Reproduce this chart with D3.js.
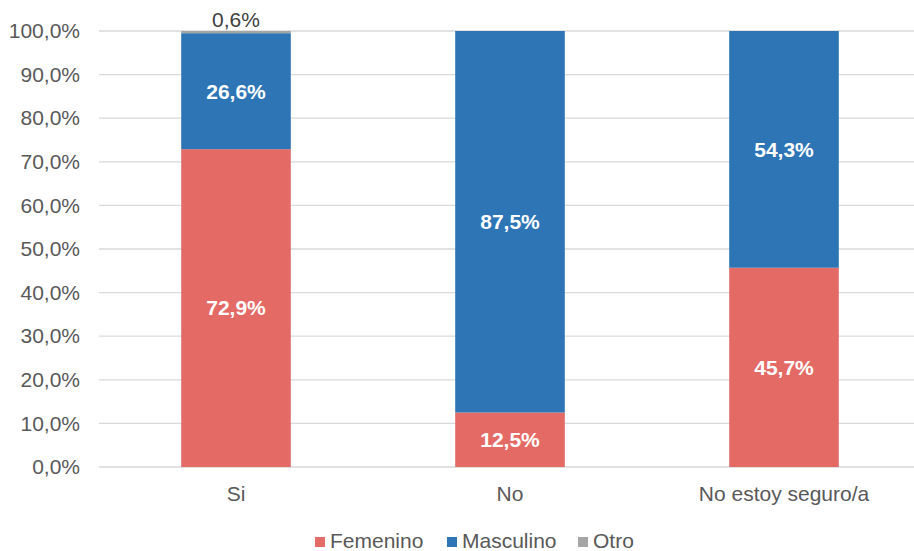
<!DOCTYPE html>
<html lang="es">
<head>
<meta charset="utf-8">
<title>Respuesta por género</title>
<script src="https://d3js.org/d3.v7.min.js"></script>
<style>
  body { margin: 0; background: #fff; }
  text { font-family: "Liberation Sans", Arial, sans-serif; }
</style>
</head>
<body>
<div id="chart"></div>
<script>
var w = 914, h = 551;

var categories = ["Si", "No", "No estoy seguro/a"];
var femenino = [72.9, 12.5, 45.7];
var masculino = [26.6, 87.5, 54.3];
var otro = [0.6, 0, 0];
var seriesNames = ["Femenino", "Masculino", "Otro"];
var colors = ["#e46a66", "#2e75b6", "#a5a5a5"];
var yTicks = [0, 10, 20, 30, 40, 50, 60, 70, 80, 90, 100];

var fmt = function(v) { return v.toFixed(1).replace(".", ",") + "%"; };

var rows = categories.map(function(c, i) {
  return { cat: c, Femenino: femenino[i], Masculino: masculino[i], Otro: otro[i] };
});
var stacked = d3.stack().keys(seriesNames)(rows);

var xScale = d3.scaleBand().domain(categories).range([99, 921]).padding(0);
var yScale = d3.scaleLinear().domain([0, 100]).range([467, 31]);
var barW = xScale.bandwidth() * 0.4;

var svg = d3.select("#chart").append("svg")
  .attr("width", w).attr("height", h);

// gridlines
svg.append("g").selectAll("line")
  .data(yTicks).enter().append("line")
  .attr("x1", 99).attr("x2", 921)
  .attr("y1", function(d) { return yScale(d); })
  .attr("y2", function(d) { return yScale(d); })
  .attr("stroke", "#d9d9d9").attr("stroke-width", 1.3);

// y axis labels
var yAxis = d3.axisLeft(yScale).tickValues(yTicks).tickSize(0).tickPadding(19)
  .tickFormat(fmt);
var gy = svg.append("g").attr("transform", "translate(99,0)").call(yAxis);
gy.select(".domain").remove();
gy.selectAll("text").attr("fill", "#595959").style("font-size", "21px")
  .style("font-family", "Liberation Sans, Arial, sans-serif");

// bars
var layers = svg.selectAll(".layer").data(stacked).enter().append("g")
  .attr("fill", function(d, i) { return colors[i]; });

layers.selectAll("rect")
  .data(function(d) { return d; })
  .enter().append("rect")
  .attr("x", function(d) { return xScale(d.data.cat) + (xScale.bandwidth() - barW) / 2; })
  .attr("width", barW)
  .attr("y", function(d) { return yScale(Math.min(d[1], 100)); })
  .attr("height", function(d) { return Math.max(0, yScale(d[0]) - yScale(Math.min(d[1], 100))); });

// data labels
stacked.forEach(function(layer, li) {
  layer.forEach(function(d) {
    var v = d[1] - d[0];
    if (v <= 0) return;
    var cx = xScale(d.data.cat) + xScale.bandwidth() / 2;
    if (v < 3) {
      svg.append("text")
        .attr("x", cx).attr("y", yScale(100) - 4)
        .attr("text-anchor", "middle")
        .attr("fill", "#404040").style("font-size", "21px")
        .text(fmt(v));
    } else {
      svg.append("text")
        .attr("x", cx).attr("y", yScale((d[0] + d[1]) / 2))
        .attr("dy", "0.35em")
        .attr("text-anchor", "middle")
        .attr("fill", "#fff").style("font-size", "21px").style("font-weight", "bold")
        .text(fmt(v));
    }
  });
});

// x axis labels
svg.append("g").selectAll("text")
  .data(categories).enter().append("text")
  .attr("x", function(d) { return xScale(d) + xScale.bandwidth() / 2; })
  .attr("y", 501)
  .attr("text-anchor", "middle")
  .attr("fill", "#595959").style("font-size", "21px")
  .text(function(d) { return d; });

// legend
var legendX = [315, 447, 578];
var leg = svg.append("g").selectAll("g")
  .data(seriesNames).enter().append("g")
  .attr("transform", function(d, i) { return "translate(" + legendX[i] + ",537)"; });
leg.append("rect").attr("width", 10).attr("height", 10)
  .attr("fill", function(d, i) { return colors[i]; });
leg.append("text").attr("x", 15).attr("y", 11)
  .attr("fill", "#595959").style("font-size", "21px")
  .text(function(d) { return d; });
</script>
</body>
</html>
